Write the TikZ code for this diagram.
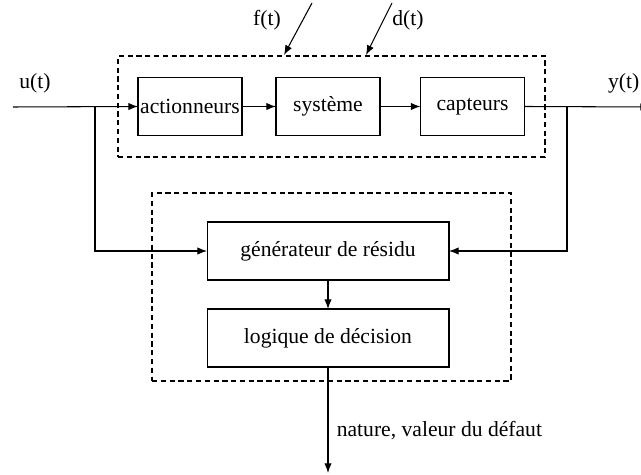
\documentclass[tikz,border=0pt]{standalone}
\usepackage{fontspec}
\setmainfont{Liberation Serif}
\usetikzlibrary{positioning,arrows.meta}
\begin{document}
\begin{tikzpicture}[x=0.02cm,y=-0.02cm,inner sep=0pt,outer sep=0pt,line width=0.6pt,
>={Latex[length=5.5pt,width=4.2pt]},font=\fontsize{12.3}{14}\selectfont,
sysblock/.style={draw,rectangle,minimum width=2.08cm,minimum height=1.16cm},
diagblock/.style={draw,rectangle,minimum width=4.84cm,minimum height=1.16cm},
frame/.style={draw,rectangle,dashed,line width=0.9pt,dash pattern=on 3pt off 2pt}]
\useasboundingbox (0,0) rectangle (641,475);

% procede
\node[frame,minimum width=8.54cm,minimum height=2.02cm] (proc) at (331.5,106.5) {};
\node[sysblock] (act) at (190,106.5) {actionneurs};
\node[sysblock] (sys) at (328,106.5) {système};
\node[sysblock] (capt) at (472.5,106.5) {capteurs};

% diagnostic
\node[frame,minimum width=7.18cm,minimum height=3.76cm] (diag) at (331.5,287) {};
\node[diagblock] (gen) at (328,251) {générateur de résidu};
\node[diagblock,below=0.58cm of gen] (dec) {logique de décision};

\coordinate (uin) at (13,107);
\coordinate (yout) at (650,107);
\coordinate (uj) at (95,107);
\coordinate (yj) at (567,107);
\coordinate (f0) at (312,3);
\coordinate (f1) at (284,55);
\coordinate (d0) at (392,3);
\coordinate (d1) at (366,55);
\coordinate (res) at (328,473);

\draw[->] (uin) node[above=8pt,xshift=12.5pt] {u(t)} -- (act.west);
\draw[->] (act) -- (sys);
\draw[->] (sys) -- (capt);
\draw[->] (capt.east) -- (yout) node[above=8pt,xshift=-15pt] {y(t)};
\draw[->] (uj) |- (gen.west);
\draw[->] (yj) |- (gen.east);
\draw[->] (gen) -- (dec);
\draw[->] (dec.south) -- (res) node[pos=0.6,right=5pt] {nature, valeur du défaut};
\draw[->] (f0) -- (f1);
\draw[->] (d0) -- (d1);
\node (flab) at (267,20) {f(t)};
\node (dlab) at (408,20) {d(t)};
\end{tikzpicture}
\end{document}
